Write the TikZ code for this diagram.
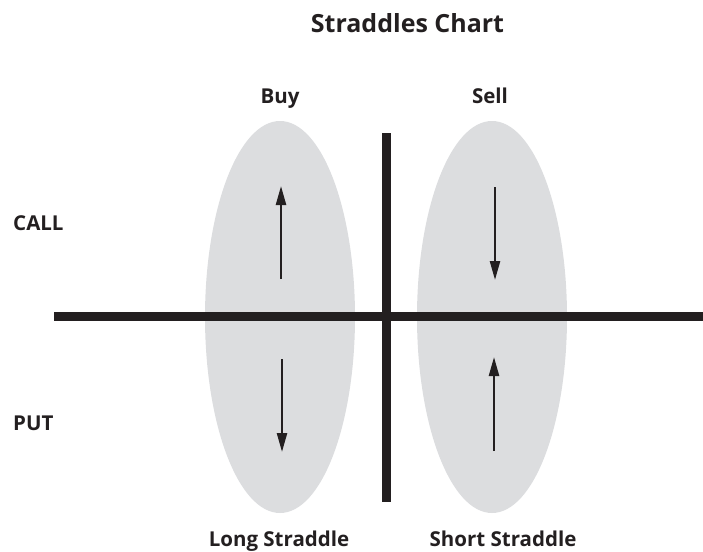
\documentclass[tikz,border=0pt]{standalone}
\usepackage{fontspec}
\setmainfont{Open Sans}
\usetikzlibrary{arrows.meta,shapes.geometric}
\definecolor{ink}{HTML}{231F20}
\definecolor{oval}{HTML}{DCDDDF}
\begin{document}
\begin{tikzpicture}[x=1pt,y=-1pt,
  lbl/.style={font=\bfseries\fontsize{20.5}{24}\selectfont, text=ink, inner sep=0pt, anchor=base},
  ttl/.style={font=\bfseries\fontsize{25}{30}\selectfont, text=ink, inner sep=0pt, anchor=base},
  blob/.style={shape=ellipse, fill=oval, draw=none, minimum width=150pt, minimum height=392pt, inner sep=0pt},
  axis/.style={draw=ink, line width=8.5pt},
  move/.style={draw=ink, line width=2.4pt, -{Triangle[length=19pt,width=10pt]}}]
\useasboundingbox (0,0) rectangle (703,551);
\node[blob] (lov) at (280,317) {};
\node[blob] (rov) at (492,317) {};
\coordinate (hl) at (54,316.5);
\coordinate (hr) at (703,316.5);
\coordinate (vt) at (386.5,133);
\coordinate (vb) at (386.5,501.5);
\draw[axis] (hl) -- (hr);
\draw[axis] (vt) -- (vb);
\coordinate (a1s) at (281,279); \coordinate (a1e) at (281,186);
\coordinate (a2s) at (282,359); \coordinate (a2e) at (282,452);
\coordinate (a3s) at (495,187); \coordinate (a3e) at (495,280);
\coordinate (a4s) at (494,451); \coordinate (a4e) at (494,357);
\draw[move] (a1s) -- (a1e);
\draw[move] (a2s) -- (a2e);
\draw[move] (a3s) -- (a3e);
\draw[move] (a4s) -- (a4e);
\node[ttl] (title) at (407.5,33) {Straddles Chart};
\node[lbl] (buy) at (280,103) {Buy};
\node[lbl] (sell) at (490,103) {Sell};
\node[lbl, anchor=base west] (call) at (13,230) {CALL};
\node[lbl, anchor=base west] (put) at (13,430) {PUT};
\node[lbl] (long) at (279,546) {Long Straddle};
\node[lbl] (short) at (503,546) {Short Straddle};
\end{tikzpicture}
\end{document}
